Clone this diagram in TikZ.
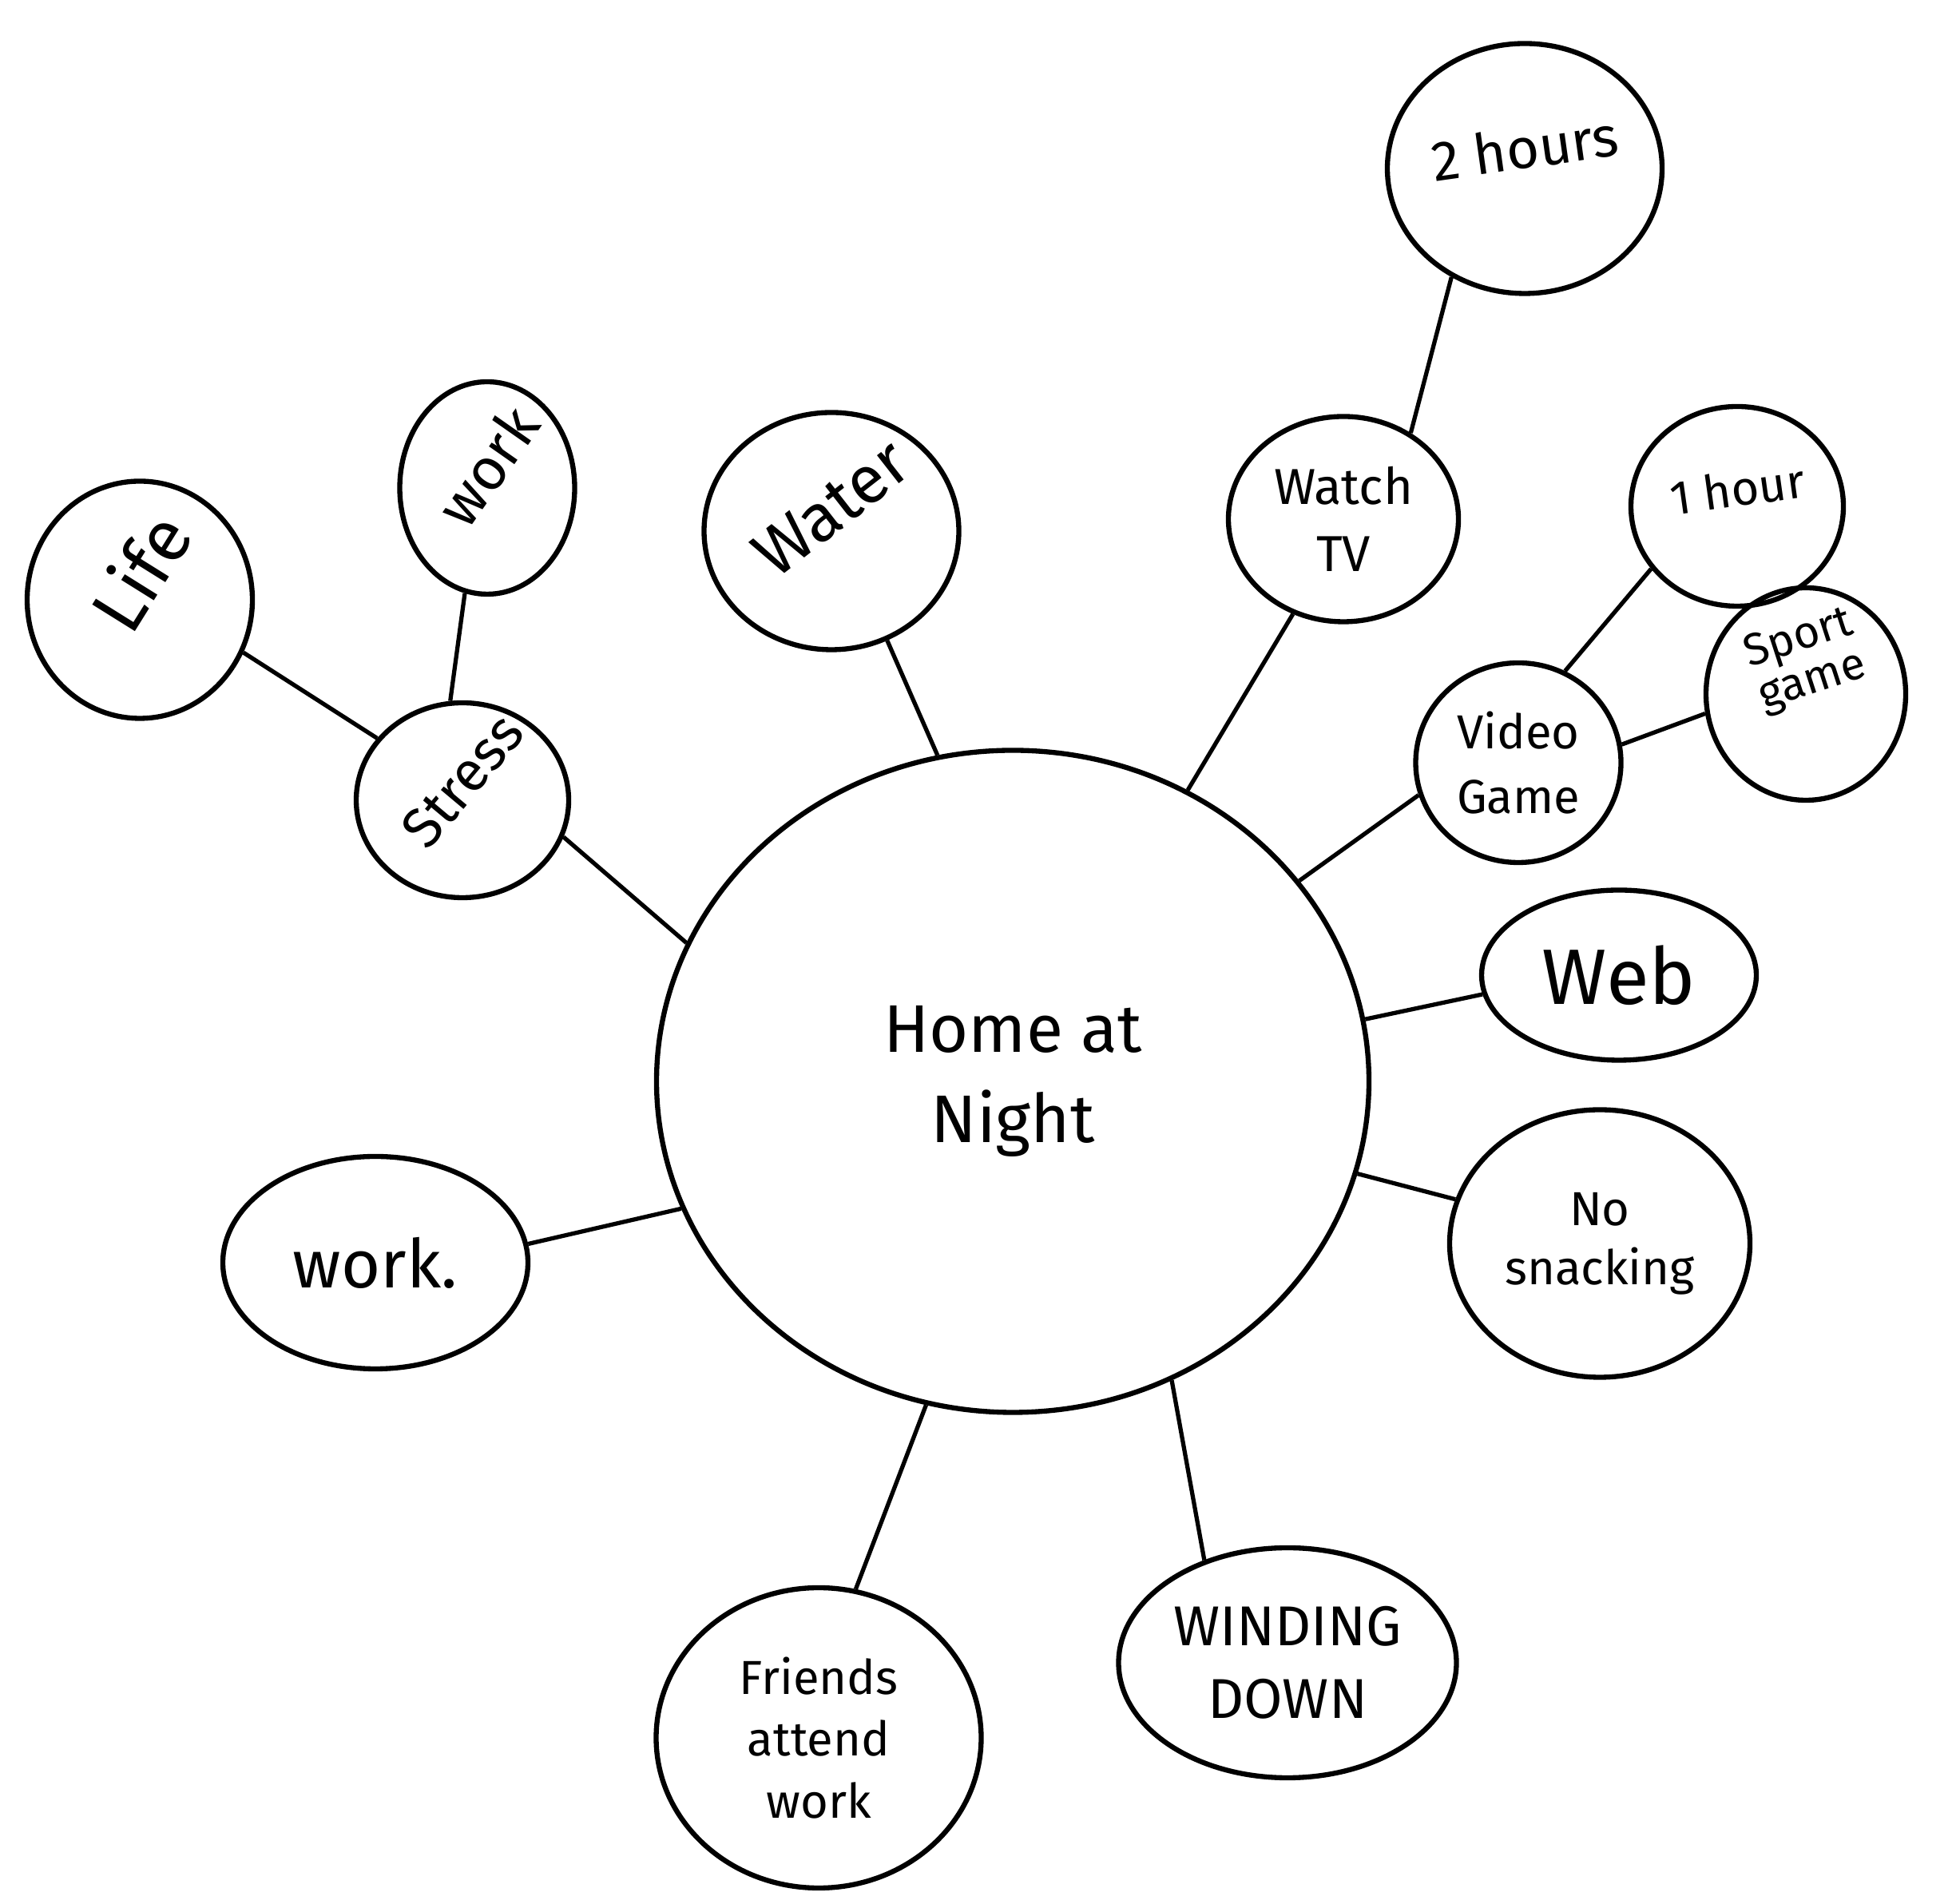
\documentclass[tikz,border=0pt]{standalone}
\usepackage{fontspec}
\setmainfont{Fira Sans}
\usepackage{graphicx}
\usetikzlibrary{shapes.geometric}
\newcommand{\tilted}[2]{\smash{\makebox[0pt]{\rotatebox[origin=c]{#1}{#2}}}}

\begin{document}
\begin{tikzpicture}[bubble/.style={ellipse, draw, line width=1.8pt, inner sep=0pt, align=center, text centered}, link/.style={line width=1.5pt}]
\useasboundingbox (0,0) rectangle (24.54,23.79);
% Centre topic
\node (home) [bubble, minimum width=8.92cm, minimum height=8.29cm, font=\fontsize{24}{32}\selectfont] at (12.68,10.25) {Home at\\Night};

% Upper left branch
\node (stress) [bubble, minimum width=2.66cm, minimum height=2.44cm, font=\fontsize{20}{24}\selectfont] at (5.79,13.77) {\tilted{50}{Stress}};
\node (life) [bubble, minimum width=2.82cm, minimum height=2.97cm, font=\fontsize{26}{30}\selectfont] at (1.75,16.28) {\tilted{58}{Life}};
\node (worktop) [bubble, minimum width=2.19cm, minimum height=2.66cm, font=\fontsize{21}{25}\selectfont] at (6.10,17.68) {\tilted{55}{work}};
\node (water) [bubble, minimum width=3.19cm, minimum height=2.97cm, font=\fontsize{24}{28}\selectfont] at (10.41,17.14) {\tilted{38}{Water}};

% Upper right branch
\node (watch) [bubble, minimum width=2.88cm, minimum height=2.57cm, font=\fontsize{18}{24}\selectfont] at (16.82,17.29) {Watch\\TV};
\node (twohours) [bubble, minimum width=3.44cm, minimum height=3.13cm, font=\fontsize{20}{24}\selectfont] at (19.09,21.68) {\tilted{8}{2 hours}};
\node (video) [bubble, minimum width=2.57cm, minimum height=2.50cm, font=\fontsize{17}{23}\selectfont] at (19.01,14.24) {Video\\Game};
\node (onehour) [bubble, minimum width=2.66cm, minimum height=2.50cm, font=\fontsize{17}{21}\selectfont] at (21.75,17.45) {\tilted{8}{1 hour}};
\node (sport) [bubble, minimum width=2.50cm, minimum height=2.66cm, font=\fontsize{16}{20}\selectfont] at (22.61,15.10) {\tilted{18}{\shortstack{Sport\\game}}};

% Right and lower branch
\node (web) [bubble, minimum width=3.44cm, minimum height=2.13cm, font=\fontsize{28}{32}\selectfont] at (20.27,11.58) {Web};
\node (snack) [bubble, minimum width=3.76cm, minimum height=3.35cm, font=\fontsize{17}{21}\selectfont] at (20.03,8.22) {No\\snacking};
\node (winding) [bubble, minimum width=4.23cm, minimum height=2.88cm, font=\fontsize{20}{26}\selectfont] at (16.12,2.97) {WINDING\\DOWN};
\node (friends) [bubble, minimum width=4.07cm, minimum height=3.76cm, font=\fontsize{17}{22}\selectfont] at (10.25,2.03) {Friends\\attend\\work};
\node (workdot) [bubble, minimum width=3.82cm, minimum height=2.66cm, font=\fontsize{24}{28}\selectfont] at (4.70,7.98) {work.};

% Connectors
\draw[link] (home.157) -- (stress.-20);
\draw[link] (stress.144) -- (life.-27);
\draw[link] (stress.97) -- (worktop.-102);
\draw[link] (home.103) -- (water.-63);
\draw[link] (home.59) -- (watch.-118);
\draw[link] (watch.52) -- (twohours.-124);
\draw[link] (home.35) -- (video.-162);
\draw[link] (video.63) -- (onehour.-144);
\draw[link] (video.10) -- (sport.-169);
\draw[link] (home.10) -- (web.-172);
\draw[link] (home.-15) -- (snack.163);
\draw[link] (home.-62) -- (winding.129);
\draw[link] (home.-105) -- (friends.76);
\draw[link] (home.-159) -- (workdot.7);

\end{tikzpicture}
\end{document}
